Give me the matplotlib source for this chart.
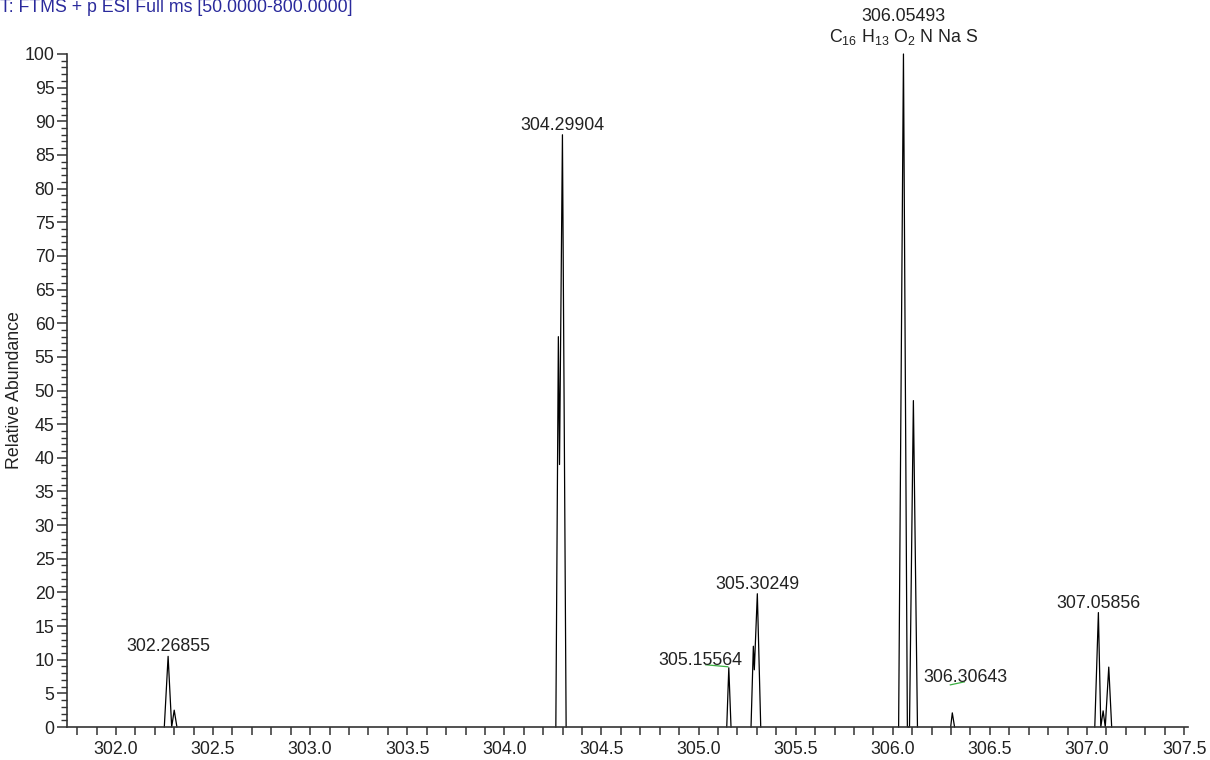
import matplotlib
matplotlib.use('Agg')
import matplotlib.pyplot as plt
from matplotlib.ticker import MultipleLocator

plt.rcParams['font.family'] = ['Liberation Sans', 'DejaVu Sans']
plt.rcParams['mathtext.fontset'] = 'custom'
plt.rcParams['mathtext.rm'] = 'Liberation Sans'
plt.rcParams['mathtext.default'] = 'regular'

# profile trace, one list of points per peak cluster (m/z, relative abundance)
peak_mz = [
    [302.249, 302.2686, 302.287, 302.300, 302.314],
    [304.265, 304.278, 304.284, 304.2990, 304.318],
    [305.145, 305.1556, 305.167],
    [305.270, 305.282, 305.287, 305.3025, 305.320],
    [306.030, 306.0549, 306.075, 306.086, 306.106, 306.127],
    [306.298, 306.3064, 306.318],
    [307.040, 307.0586, 307.071, 307.083, 307.094, 307.112, 307.127],
]
peak_int = [
    [0, 10.5, 0, 2.5, 0],
    [0, 58.0, 39.0, 88.0, 0],
    [0, 8.8, 0],
    [0, 12.0, 8.5, 19.8, 0],
    [0, 100.0, 0, 0, 48.5, 0],
    [0, 2.1, 0],
    [0, 17.0, 0, 2.4, 0, 8.9, 0],
]

# peak labels
label_mz = [302.26855, 304.29904, 305.15564, 305.30249, 306.05493, 306.30643, 307.05856]
label_int = [10.5, 88.0, 8.8, 19.8, 100.0, 2.1, 17.0]
label_text = ['302.26855', '304.29904', '305.15564', '305.30249', '306.05493', '306.30643', '307.05856']
formula = 'C$_{16}$ H$_{13}$ O$_{2}$ N Na S'
header = 'T: FTMS + p ESI Full ms [50.0000-800.0000]'

FS = 12.8

fig = plt.figure(figsize=(12.1, 7.6), dpi=100, facecolor='white')
ax = fig.add_axes([67/1210, 1-727/760, (1188-67)/1210, (727-54)/760])

for xs, ys in zip(peak_mz, peak_int):
    ax.plot(xs, ys, color='black', lw=0.9, clip_on=False)

ax.set_xlim(301.748, 307.52)
ax.set_ylim(0, 100)

ax.spines['top'].set_visible(False)
ax.spines['right'].set_visible(False)
for s in ('left', 'bottom'):
    ax.spines[s].set_color('#333333')
    ax.spines[s].set_linewidth(1.2)

ax.xaxis.set_major_locator(MultipleLocator(0.5))
ax.xaxis.set_minor_locator(MultipleLocator(0.1))
ax.yaxis.set_major_locator(MultipleLocator(5))
ax.yaxis.set_minor_locator(MultipleLocator(1))
ax.xaxis.set_major_formatter(matplotlib.ticker.FormatStrFormatter('%.1f'))
ax.tick_params(axis='x', which='both', direction='out', length=6, width=1.1,
               color='#333333', labelsize=FS, pad=4, labelcolor='#222222')
ax.tick_params(axis='y', which='major', direction='out', length=7, width=1.1,
               color='#333333', labelsize=FS, pad=2, labelcolor='#222222')
ax.tick_params(axis='y', which='minor', direction='out', length=4, width=1.0, color='#333333')

ax.set_ylabel('Relative Abundance', fontsize=FS, color='#222222', labelpad=1)

# label offsets in pixels from the apex
offsets = {
    '305.15564': (-28, 3),
    '306.30643': (13, 31),
}
for mz, inten, txt in zip(label_mz, label_int, label_text):
    dx, dy = offsets.get(txt, (0, 5))
    if txt == '306.05493':
        ax.annotate(formula, xy=(mz, inten), xytext=(0, 12), textcoords='offset pixels',
                    ha='center', va='baseline', fontsize=FS, color='#222222',
                    annotation_clip=False)
        dy = 33
    ax.annotate(txt, xy=(mz, inten), xytext=(dx, dy), textcoords='offset pixels',
                ha='center', va='baseline', fontsize=FS, color='#222222',
                annotation_clip=False)

# small green leader lines next to offset labels
def leader(mz, inten, p0, p1):
    base = ax.transData.transform((mz, inten))
    inv = ax.transData.inverted()
    a = inv.transform((base[0] + p0[0], base[1] + p0[1]))
    b = inv.transform((base[0] + p1[0], base[1] + p1[1]))
    ax.plot([a[0], b[0]], [a[1], b[1]], color='#3cb043', lw=0.9, clip_on=False)

fig.canvas.draw()
leader(label_mz[2], label_int[2], (-23, 3), (-1, 1))
leader(label_mz[5], label_int[5], (-2, 28), (12, 31))

fig.text(0.0, 1 - 12/760, header, ha='left', va='baseline', fontsize=FS, color='#2a2a9c')

fig.savefig('out.png', dpi=100, facecolor='white')
